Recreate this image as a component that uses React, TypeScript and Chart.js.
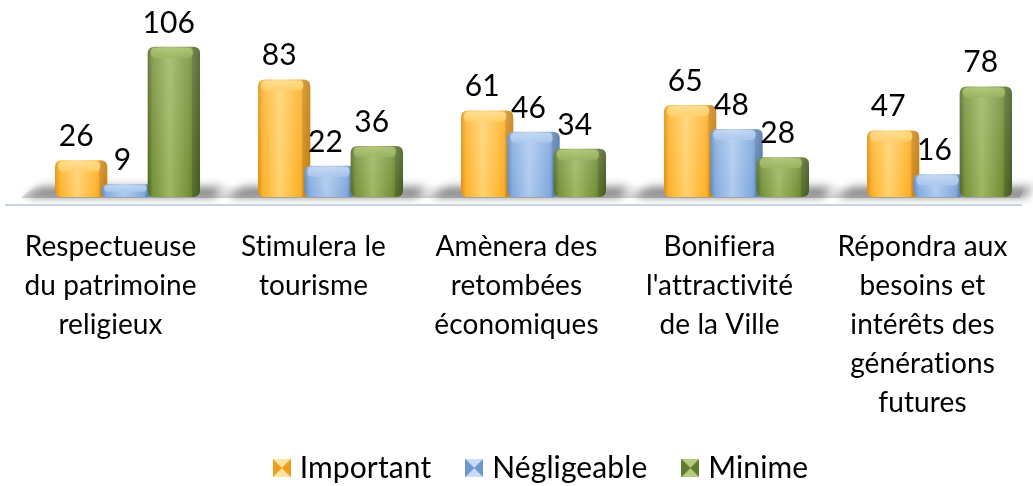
import React, { useEffect, useRef } from "react";
import { Chart, registerables } from "chart.js";

Chart.register(...registerables);

const categories: string[][] = [
  ["Respectueuse", "du patrimoine", "religieux"],
  ["Stimulera le", "tourisme"],
  ["Amènera des", "retombées", "économiques"],
  ["Bonifiera", "l'attractivité", "de la Ville"],
  ["Répondra aux", "besoins et", "intérêts des", "générations", "futures"],
];
const seriesNames = ["Important", "Négligeable", "Minime"];
const important = [26, 83, 61, 65, 47];
const negligeable = [9, 22, 46, 48, 16];
const minime = [106, 36, 34, 28, 78];

const palettes = [
  { dark: "#DE8E12", base: "#FFB22A", light: "#FFD26E", top: "#FFE3A0" },
  { dark: "#5A86C0", base: "#83ABDE", light: "#AECAEE", top: "#CADCF5" },
  { dark: "#4E6724", base: "#76923A", light: "#9DB762", top: "#B5CB82" },
];

const FONT = "Lato";
const SHIFT = 15;
const LEGEND_DX = 27;
const LEGEND_DY = -6;
const LEGEND_TRIM = 13;
const AXIS_HEIGHT = 222;

function rr(ctx: CanvasRenderingContext2D, x: number, y: number, w: number, h: number, r: number) {
  const rad = Math.max(0, Math.min(r, w / 2, h / 2));
  ctx.beginPath();
  ctx.moveTo(x + rad, y);
  ctx.lineTo(x + w - rad, y);
  ctx.quadraticCurveTo(x + w, y, x + w, y + rad);
  ctx.lineTo(x + w, y + h - rad);
  ctx.quadraticCurveTo(x + w, y + h, x + w - rad, y + h);
  ctx.lineTo(x + rad, y + h);
  ctx.quadraticCurveTo(x, y + h, x, y + h - rad);
  ctx.lineTo(x, y + rad);
  ctx.quadraticCurveTo(x, y, x + rad, y);
  ctx.closePath();
}

function drawBar(ctx: CanvasRenderingContext2D, x0: number, x1: number, yt: number, yb: number, p: any) {
  const w = x1 - x0;
  const h = yb - yt;
  const g = ctx.createLinearGradient(x0, 0, x1, 0);
  g.addColorStop(0, p.dark);
  g.addColorStop(0.1, p.base);
  g.addColorStop(0.42, p.light);
  g.addColorStop(0.78, p.base);
  g.addColorStop(1, p.dark);
  rr(ctx, x0, yt, w, h, 7);
  ctx.fillStyle = g;
  ctx.fill();
  ctx.save();
  rr(ctx, x0, yt, w, h, 7);
  ctx.clip();
  ctx.fillStyle = "rgba(0,0,0,0.14)";
  ctx.fillRect(x1 - 8, yt, 8, h);
  const vg = ctx.createLinearGradient(0, yt, 0, yb);
  vg.addColorStop(0, "rgba(255,255,255,0.15)");
  vg.addColorStop(1, "rgba(255,255,255,0)");
  ctx.fillStyle = vg;
  ctx.fillRect(x0, yt, w, h);
  ctx.restore();
  const capH = Math.min(10, h / 2);
  const cg = ctx.createLinearGradient(0, yt, 0, yt + capH);
  cg.addColorStop(0, p.top);
  cg.addColorStop(1, p.light);
  rr(ctx, x0 + 3, yt + 1, w - 10, capH, 5);
  ctx.fillStyle = cg;
  ctx.globalAlpha = 0.85;
  ctx.fill();
  ctx.globalAlpha = 1;
}

function makeIcon(p: any): HTMLCanvasElement {
  const c = document.createElement("canvas");
  const s = 18;
  c.width = s;
  c.height = s;
  const x = c.getContext("2d")!;
  x.fillStyle = p.base;
  x.fillRect(0, 0, s, s);
  x.fillStyle = p.top;
  x.beginPath();
  x.moveTo(0, 0); x.lineTo(s, 0); x.lineTo(s / 2, s / 2); x.closePath(); x.fill();
  x.beginPath();
  x.moveTo(0, s); x.lineTo(s, s); x.lineTo(s / 2, s / 2); x.closePath(); x.fill();
  x.fillStyle = p.dark;
  x.globalAlpha = 0.55;
  x.beginPath();
  x.moveTo(0, 0); x.lineTo(0, s); x.lineTo(s / 2, s / 2); x.closePath(); x.fill();
  x.beginPath();
  x.moveTo(s, 0); x.lineTo(s, s); x.lineTo(s / 2, s / 2); x.closePath(); x.fill();
  return c;
}

function noLig(ctx: any) {
  try {
    ctx.textRendering = "optimizeSpeed";
    ctx.letterSpacing = "0.1px";
  } catch (e) {}
}

const bars3d = {
  id: "bars3d",
  beforeInit(chart: any) { noLig(chart.ctx); },
  beforeLayout(chart: any) {
    noLig(chart.ctx);
    const lg = chart.legend;
    if (lg && !lg.__trimmed) {
      const orig = lg.fit;
      lg.fit = function () {
        orig.call(this);
        this.height -= LEGEND_TRIM;
      };
      lg.__trimmed = true;
    }
  },
  afterLayout(chart: any) {
    const lg = chart.legend;
    if (lg) {
      lg.left += LEGEND_DX;
      lg.right += LEGEND_DX;
      lg.top += LEGEND_DY;
      lg.bottom += LEGEND_DY + LEGEND_TRIM + 10;
      lg.height += LEGEND_TRIM + 10;
    }
  },
  beforeDraw(chart: any) { noLig(chart.ctx); },
  beforeDatasetsDraw(chart: any) {
    const { ctx, chartArea } = chart;
    const b = chartArea.bottom;
    const metas = [0, 2].map((i) => chart.getDatasetMeta(i));
    ctx.save();
    ctx.beginPath();
    ctx.moveTo(chartArea.left + 12, b + 1);
    ctx.lineTo(chartArea.right - 4, b + 1);
    ctx.lineTo(chartArea.right + 2, b - 14);
    ctx.lineTo(chartArea.left + 30, b - 14);
    ctx.closePath();
    const fg = ctx.createLinearGradient(0, b - 14, 0, b + 1);
    fg.addColorStop(0, "rgba(140,140,140,0)");
    fg.addColorStop(1, "rgba(110,110,110,0.35)");
    ctx.fillStyle = fg;
    ctx.fill();
    ctx.filter = "blur(4px)";
    for (let j = 0; j < categories.length; j++) {
      const a = metas[0].data[j];
      const z = metas[1].data[j];
      if (!a || !z) continue;
      const gl = a.x - a.width / 2 + SHIFT;
      const gr = z.x + z.width / 2 + SHIFT + 5;
      ctx.beginPath();
      ctx.moveTo(gl - 30, b);
      ctx.lineTo(gr + 14, b);
      ctx.lineTo(gr + 24, b - 13);
      ctx.lineTo(gl - 12, b - 13);
      ctx.closePath();
      const sg = ctx.createLinearGradient(0, b - 13, 0, b);
      sg.addColorStop(0, "rgba(60,60,60,0.15)");
      sg.addColorStop(1, "rgba(50,50,50,0.75)");
      ctx.fillStyle = sg;
      ctx.fill();
    }
    ctx.filter = "none";
    ctx.strokeStyle = "#C8D3E4";
    ctx.lineWidth = 2;
    ctx.beginPath();
    ctx.moveTo(chartArea.left - 4, b + 8);
    ctx.lineTo(chartArea.right - 2, b + 8);
    ctx.stroke();
    ctx.restore();
  },
  afterDatasetsDraw(chart: any) {
    const { ctx } = chart;
    const metas = [0, 1, 2].map((i) => chart.getDatasetMeta(i));
    ctx.save();
    for (let j = 0; j < categories.length; j++) {
      for (let i = 0; i < 3; i++) {
        const el = metas[i].data[j];
        if (!el) continue;
        const { x, y, base, width } = el.getProps(["x", "y", "base", "width"], true);
        drawBar(ctx, x - width / 2 + SHIFT - 1, x + width / 2 + SHIFT + 5, y, base, palettes[i]);
      }
    }
    ctx.fillStyle = "#000";
    ctx.font = `30px ${FONT}`;
    ctx.textAlign = "center";
    ctx.textBaseline = "middle";
    for (let i = 0; i < 3; i++) {
      const ds = chart.data.datasets[i];
      metas[i].data.forEach((el: any, j: number) => {
        const { x, y } = el.getProps(["x", "y"], true);
        ctx.fillText(String(ds.data[j]), x + SHIFT - 3, y - 24);
      });
    }
    ctx.restore();
  },
};

export default function App() {
  const ref = useRef<HTMLCanvasElement>(null);
  useEffect(() => {
    document.body.style.margin = "0";
    const icons = palettes.map(makeIcon);
    const chart = new Chart(ref.current!, {
      type: "bar",
      data: {
        labels: categories,
        datasets: [important, negligeable, minime].map((d, i) => ({
          label: seriesNames[i],
          data: d,
          backgroundColor: "rgba(0,0,0,0)",
          borderWidth: 0,
          categoryPercentage: 0.685,
          barPercentage: 1,
        })),
      },
      options: {
        responsive: false,
        animation: false,
        layout: { padding: { left: 9, right: 9, top: 27, bottom: 0 } },
        scales: {
          x: {
            grid: { display: false },
            border: { display: false },
            ticks: {
              color: "#000",
              font: { family: FONT, size: 28, lineHeight: 1.4 },
              padding: 22,
              maxRotation: 0,
              autoSkip: false,
            },
            afterFit: (scale: any) => {
              scale.height = AXIS_HEIGHT;
            },
          },
          y: { display: false, min: 0, max: 120 },
        },
        plugins: {
          tooltip: { enabled: false },
          legend: {
            position: "bottom",
            labels: {
              color: "#000",
              font: { family: FONT, size: 30 },
              usePointStyle: true,
              pointStyleWidth: 6,
              padding: 40,
              generateLabels: () =>
                seriesNames.map((n, i) => ({
                  text: n,
                  pointStyle: icons[i] as any,
                  fillStyle: palettes[i].base,
                  strokeStyle: palettes[i].base,
                  lineWidth: 0,
                  hidden: false,
                  datasetIndex: i,
                })),
            },
          },
        },
      },
      plugins: [bars3d],
    });
    return () => chart.destroy();
  }, []);
  return (
    <div style={{ width: 1033, height: 486 }}>
      <canvas ref={ref} width={1033} height={486} style={{ display: "block" }} />
    </div>
  );
}
